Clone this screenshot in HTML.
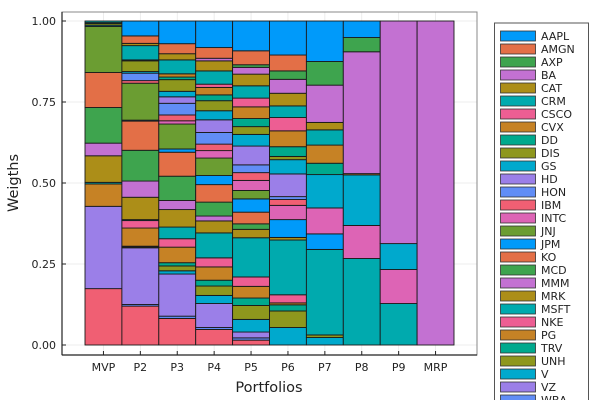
<!DOCTYPE html>
<html><head><meta charset="utf-8"><style>
body{margin:0;background:#fff;}
svg text{font-family:"DejaVu Sans","Liberation Sans",sans-serif;}
</style></head><body>
<svg id="chart" width="600" height="400" viewBox="0 0 600 400" xmlns="http://www.w3.org/2000/svg">
<rect width="600" height="400" fill="#fff"/>
<g id="grid"></g>
<g id="bars"></g>
<g id="axes"></g>
<g id="legend"></g>
</svg>
<script>
const stocks = ["AAPL","AMGN","AXP","BA","CAT","CRM","CSCO","CVX","DD","DIS","GS","HD","HON","IBM","INTC","JNJ","JPM","KO","MCD","MMM","MRK","MSFT","NKE","PG","TRV","UNH","V","VZ","WBA","WMT"];
const portfolios = ["MVP","P2","P3","P4","P5","P6","P7","P8","P9","MRP"];
const yTicks = [0,0.25,0.5,0.75,1.0];
const yTickLabels = ["0.00","0.25","0.50","0.75","1.00"];
const wMVP = [0,0,0,0,0,.005,0,0,.003,.005,.004,0,0,0,0,.142,0,.108,.110,.039,.082,.005,0,.069,0,0,0,.254,0,.174];
const wP2  = [.046,.023,0,0,.007,.044,0,0,.003,.033,.005,0,.023,.008,0,.114,.003,.090,.095,.050,.069,.003,.023,.056,.002,.003,0,.175,.005,.120];
const wP3  = [.070,.031,0,0,.019,.043,0,.010,.008,.036,.017,.020,.036,.018,.010,.077,.010,.074,.075,.028,.054,.036,.026,.048,.010,.015,.010,.130,.007,.082];
const wP4  = [.082,.033,0,.008,.031,.041,.010,.023,.018,.031,.028,.039,.036,.020,.023,.054,.028,.054,.043,.015,.037,.077,.028,.041,.018,.029,.025,.074,.006,.048];
const wP5  = [.092,.043,.008,.021,.036,.038,.027,.036,.025,.024,.036,.058,.024,.024,.031,.026,.041,.036,.017,0,.026,.121,.029,.036,.023,.043,.039,.018,.007,.015];
const wP6  = [.105,.049,.026,.043,.039,.036,.041,.049,.030,.010,.044,.070,.009,.018,.044,0,.055,0,0,0,.008,.169,.025,.006,.019,.051,.054,0,0,0];
const wP7  = [.125,0,.073,.115,.023,.047,0,.056,.035,0,.103,0,0,0,.080,0,.048,0,0,0,0,.264,0,0,0,.008,.023,0,0,0];
const wP8  = [.051,0,.044,.376,0,0,0,.004,0,0,.156,0,0,0,.102,0,0,0,0,0,0,.267,0,0,0,0,0,0,0,0];
const wP9  = [0,0,0,.687,0,0,0,0,0,0,.080,0,0,0,.105,0,0,0,0,0,0,.128,0,0,0,0,0,0,0,0];
const wMRP = [0,0,0,1.0,0,0,0,0,0,0,0,0,0,0,0,0,0,0,0,0,0,0,0,0,0,0,0,0,0,0];
const weights = [wMVP,wP2,wP3,wP4,wP5,wP6,wP7,wP8,wP9,wMRP];

const palette = ["#009AFA","#E36F47","#3EA44E","#C371D2","#AC8E18","#00AAAE","#ED5E93","#C68225","#00A98D","#8E971D","#00A9CD","#9B7FE8","#618DF6","#F05F73","#DD64B5","#6B9D32"];
const NS="http://www.w3.org/2000/svg";
const PL=62, PR=477, PT=12, PB=355;
const y0=345, y1=21;
function yScale(v){return y0-(y0-y1)*v;}
const bw=36.9;
function xLeft(i){return 85+bw*i;}
function xCenter(i){return xLeft(i)+bw/2;}
function mk(tag,attrs,parent){const e=document.createElementNS(NS,tag);for(const k in attrs)e.setAttribute(k,attrs[k]);parent.appendChild(e);return e;}

const grid=document.getElementById('grid');
yTicks.forEach(t=>{const l=mk('line',{x1:PL,x2:PR,y1:yScale(t),y2:yScale(t),stroke:'#e8e8e8','stroke-width':0.8},grid);

});
portfolios.forEach((p,i)=>{const l=mk('line',{x1:xCenter(i),x2:xCenter(i),y1:PT,y2:PB,stroke:'#e8e8e8','stroke-width':0.8},grid);

});

const bars=document.getElementById('bars');
weights.forEach((w,i)=>{
  let cum=0;
  for(let k=stocks.length-1;k>=0;k--){
    const v=w[k]; if(v<=0)continue;
    const yt=yScale(cum+v), yb=yScale(cum);
    const r=mk('rect',{x:xLeft(i),y:yt,width:bw,height:yb-yt,fill:palette[k%16],stroke:'#1a1a1a','stroke-width':0.9},bars);
    
    
    cum+=v;
  }
});

const axes=document.getElementById('axes');
const fr=mk('rect',{x:PL,y:PT,width:PR-PL,height:PB-PT,fill:'none',stroke:'#888','stroke-width':1},axes);


mk('line',{x1:PL,x2:PL,y1:PT,y2:PB,stroke:'#222','stroke-width':1.2},axes);
mk('line',{x1:PL,x2:PR,y1:PB,y2:PB,stroke:'#222','stroke-width':1.2},axes);
yTicks.forEach((t,i)=>{
  mk('line',{x1:PL,x2:PL+4,y1:yScale(t),y2:yScale(t),stroke:'#222','stroke-width':1},axes);
  const tx=mk('text',{x:56,y:yScale(t)+4,'text-anchor':'end','font-size':11,fill:'#222'},axes);
  tx.textContent=yTickLabels[i];
  
  
});
portfolios.forEach((p,i)=>{
  mk('line',{x1:xCenter(i),x2:xCenter(i),y1:PB,y2:PB-4,stroke:'#222','stroke-width':1},axes);
  const tx=mk('text',{x:xCenter(i),y:371,'text-anchor':'middle','font-size':11,fill:'#222'},axes);
  tx.textContent=p;
  
  
});
const xt=mk('text',{x:269,y:392,'text-anchor':'middle','font-size':14.5,fill:'#222'},axes);
xt.textContent='Portfolios';


const yt=mk('text',{x:18,y:183,'text-anchor':'middle','font-size':14.5,fill:'#222',transform:'rotate(-90 18 183)'},axes);
yt.textContent='Weigths';



const lg=document.getElementById('legend');
const lb=mk('rect',{x:494.5,y:23,width:94,height:390,fill:'#fff',stroke:'#555','stroke-width':1},lg);


stocks.forEach((s,k)=>{
  const cy=36+13*k;
  const g=mk('g',{},lg);
  
  
  mk('rect',{x:500.5,y:cy-5,width:35,height:10,fill:palette[k%16],stroke:'#333','stroke-width':0.8},g);
  const t=mk('text',{x:541,y:cy+4.2,'font-size':11,fill:'#222'},g);
  t.textContent=s;
});
</script>
</body></html>
